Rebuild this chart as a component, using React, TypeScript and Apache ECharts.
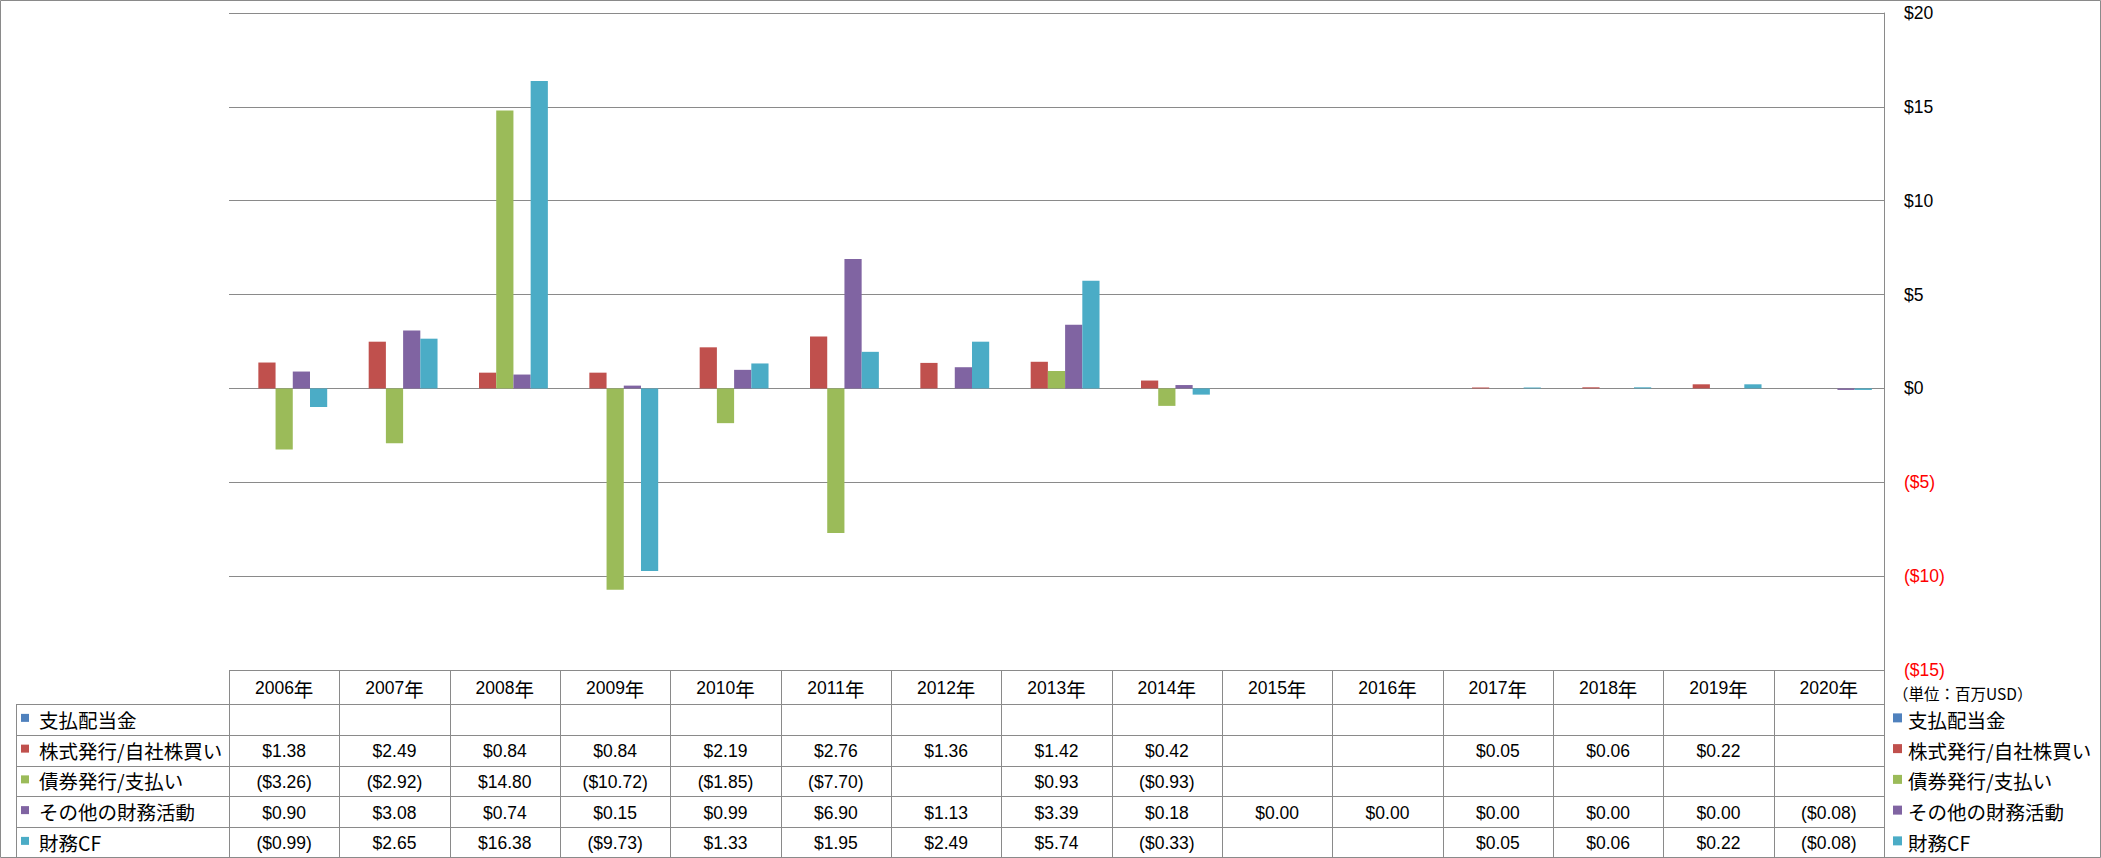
import React, { useEffect, useRef } from 'react';
import * as echarts from 'echarts';

// ---------- data ----------
const years = ['2006年', '2007年', '2008年', '2009年', '2010年', '2011年', '2012年', '2013年', '2014年', '2015年', '2016年', '2017年', '2018年', '2019年', '2020年'];
const seriesNames = ['支払配当金', '株式発行/自社株買い', '債券発行/支払い', 'その他の財務活動', '財務CF'];
const dividendsPaid: (number | null)[] = [null, null, null, null, null, null, null, null, null, null, null, null, null, null, null];
const stockIssuance: (number | null)[] = [1.38, 2.49, 0.84, 0.84, 2.19, 2.76, 1.36, 1.42, 0.42, null, null, 0.05, 0.06, 0.22, null];
const debtIssuance: (number | null)[] = [-3.26, -2.92, 14.8, -10.72, -1.85, -7.7, null, 0.93, -0.93, null, null, null, null, null, null];
const otherFinancing: (number | null)[] = [0.9, 3.08, 0.74, 0.15, 0.99, 6.9, 1.13, 3.39, 0.18, 0, 0, 0, 0, 0, -0.08];
const financingCF: (number | null)[] = [-0.99, 2.65, 16.38, -9.73, 1.33, 1.95, 2.49, 5.74, -0.33, null, null, 0.05, 0.06, 0.22, -0.08];
const yMin = -15;
const yMax = 20;
const yInterval = 5;
const unitLabel = '（単位：百万USD）';

const seriesData = [dividendsPaid, stockIssuance, debtIssuance, otherFinancing, financingCF];
const colors = ['#4F81BD', '#C0504D', '#9BBB59', '#8064A2', '#4BACC6'];

// ---------- layout ----------
const W = 2101;
const H = 858;
const plotL = 229;
const plotR = 1884;
const plotT = 13;
const plotB = 670;
const headerB = 704;
const rowH = 30.75;
const tableL = 16;
const lineColor = '#8A8A8A';
const numFont = '17.5px "Liberation Sans", "Noto Sans CJK JP", sans-serif';
const jpFont = '19.5px "Noto Sans CJK JP", sans-serif';

const fmt = (v: number | null) => {
  if (v === null || v === undefined) return '';
  if (v < 0) return `($${(-v).toFixed(2)})`;
  return `$${v.toFixed(2)}`;
};

function buildGraphic() {
  const els: any[] = [];
  const n = years.length;
  const colW = (plotR - plotL) / n;
  const crisp = (v: number) => Math.round(v) + 0.5;
  const hline = (x1: number, x2: number, y: number) =>
    els.push({ type: 'line', silent: true, shape: { x1, y1: crisp(y), x2, y2: crisp(y) }, style: { stroke: lineColor, lineWidth: 1 } });
  const vline = (x: number, y1: number, y2: number) =>
    els.push({ type: 'line', silent: true, shape: { x1: crisp(x), y1, x2: crisp(x), y2 }, style: { stroke: lineColor, lineWidth: 1 } });

  // outer frame
  els.push({ type: 'rect', silent: true, shape: { x: 0.5, y: 0.5, width: W - 1, height: H - 1 }, style: { fill: 'none', stroke: lineColor, lineWidth: 1 } });

  // table grid
  const rowTops: number[] = [];
  for (let i = 0; i <= seriesNames.length; i++) rowTops.push(headerB + i * rowH);
  rowTops.forEach((y) => hline(tableL, plotR, Math.min(y, H - 1)));
  vline(tableL, headerB, H);
  for (let c = 0; c <= n; c++) vline(plotL + c * colW, plotB, H);

  // header years
  years.forEach((yr, c) => {
    const cx = plotL + (c + 0.5) * colW;
    els.push({
      type: 'text', silent: true,
      style: {
        x: cx, y: (plotB + headerB) / 2 + 1, text: `{d|${yr.replace('年', '')}}{k|年}`,
        align: 'center', verticalAlign: 'middle', textAlign: 'center', textVerticalAlign: 'middle',
        rich: {
          d: { fontSize: 17.5, fontFamily: '"Liberation Sans", sans-serif', fill: '#000', color: '#000' },
          k: { fontSize: 19.5, fontFamily: '"Noto Sans CJK JP", sans-serif', fill: '#000', color: '#000' },
        },
      },
    });
  });

  // rows
  seriesNames.forEach((name, r) => {
    const cy = headerB + (r + 0.5) * rowH;
    // left legend
    els.push({ type: 'rect', silent: true, shape: { x: 21, y: cy - 5.5, width: 8, height: 8 }, style: { fill: colors[r] } });
    els.push({ type: 'text', silent: true, style: { x: 39, y: cy, text: name, font: jpFont, fill: '#000', textAlign: 'left', textVerticalAlign: 'middle' } });
    // right legend
    els.push({ type: 'rect', silent: true, shape: { x: 1893, y: cy - 6, width: 9, height: 9 }, style: { fill: colors[r] } });
    els.push({ type: 'text', silent: true, style: { x: 1908, y: cy, text: name, font: jpFont, fill: '#000', textAlign: 'left', textVerticalAlign: 'middle' } });
    // values
    seriesData[r].forEach((v, c) => {
      const t = fmt(v);
      if (!t) return;
      els.push({
        type: 'text', silent: true,
        style: { x: plotL + (c + 0.5) * colW, y: cy + 1, text: t, font: numFont, fill: '#000', textAlign: 'center', textVerticalAlign: 'middle' },
      });
    });
  });

  // unit label
  els.push({ type: 'text', silent: true, style: { x: 1893, y: 693, text: unitLabel, font: '15.5px "Noto Sans CJK JP", sans-serif', fill: '#000', textAlign: 'left', textVerticalAlign: 'middle' } });
  return els;
}

export default function App() {
  const ref = useRef<HTMLDivElement>(null);
  useEffect(() => {
    if (!ref.current) return;
    const chart = echarts.init(ref.current, undefined, { renderer: 'svg' });
    chart.setOption({
      animation: false,
      backgroundColor: '#FFFFFF',
      grid: { left: plotL, top: plotT, width: plotR - plotL, height: plotB - plotT, containLabel: false },
      xAxis: {
        type: 'category',
        data: years,
        axisLine: { show: false },
        axisTick: { show: false },
        axisLabel: { show: false },
        splitLine: { show: false },
      },
      yAxis: {
        type: 'value',
        position: 'right',
        min: yMin,
        max: yMax,
        interval: yInterval,
        axisLine: { show: true, lineStyle: { color: lineColor, width: 1 } },
        axisTick: { show: false },
        splitLine: { show: true, lineStyle: { color: lineColor, width: 1 } },
        axisLabel: {
          margin: 20,
          fontSize: 17.5,
          fontFamily: '"Liberation Sans", sans-serif',
          formatter: (v: number) => (v < 0 ? `{n|($${-v})}` : `{p|$${v}}`),
          rich: {
            n: { color: '#FF0000', fontSize: 17.5, fontFamily: '"Liberation Sans", sans-serif' },
            p: { color: '#000000', fontSize: 17.5, fontFamily: '"Liberation Sans", sans-serif' },
          },
        },
      },
      series: seriesNames.map((name, i) => ({
        name,
        type: 'bar',
        data: seriesData[i],
        barGap: '0%',
        barCategoryGap: '22%',
        itemStyle: { color: colors[i] },
      })),
      graphic: buildGraphic(),
    });
    return () => chart.dispose();
  }, []);
  return <div ref={ref} style={{ position: 'absolute', left: 0, top: 0, width: W, height: H }} />;
}
